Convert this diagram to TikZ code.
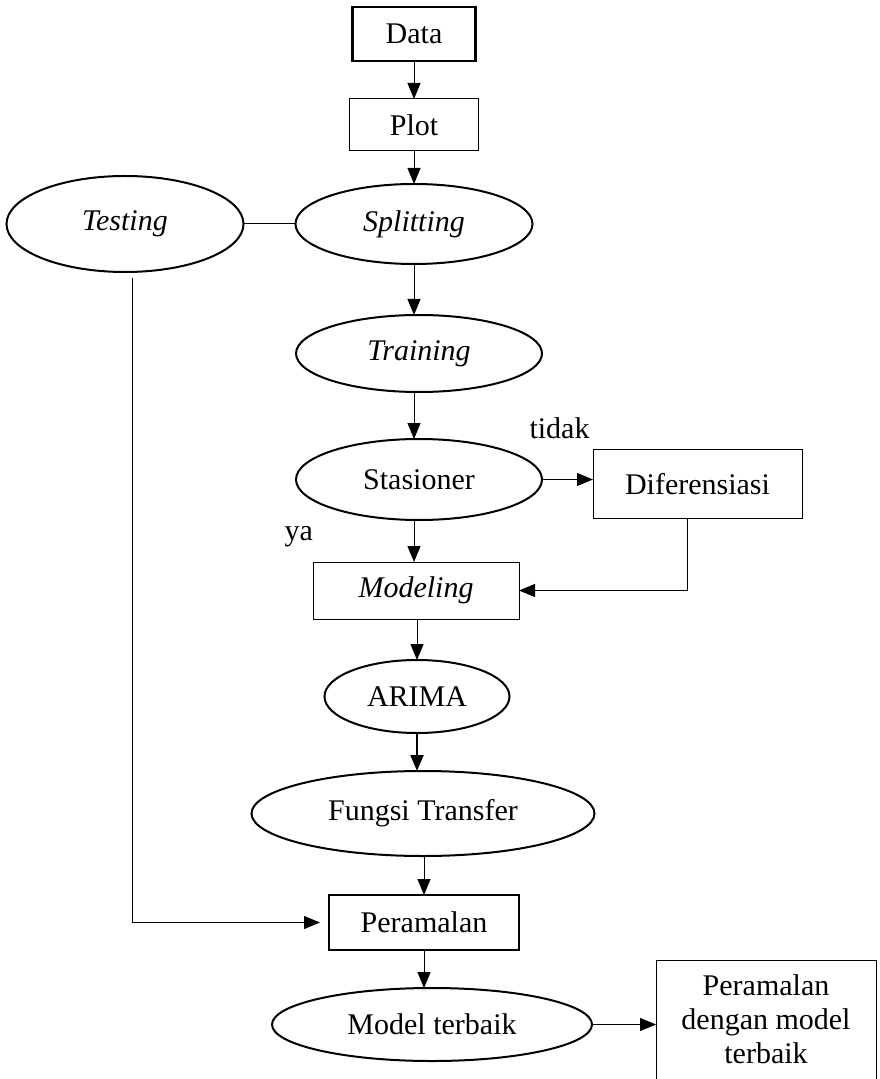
\documentclass[tikz,border=0pt]{standalone}
\usepackage{fontspec}
\setmainfont{Liberation Serif}
\usetikzlibrary{arrows.meta,positioning,shapes.geometric}
\tikzset{%
   kotak/.style={rectangle, draw=black, line width=0.5pt, inner sep=0pt, outer sep=0pt},
   kotaktebal/.style={kotak, line width=1.3pt},
   elips/.style={ellipse, draw=black, line width=1pt, inner sep=0pt, outer sep=0pt},
   panah/.style={-{Triangle[length=8pt,width=6.5pt]}, line width=0.5pt},
   garis/.style={line width=0.5pt},
}

\begin{document}
\begin{tikzpicture}[x=0.5pt, y=-0.5pt, font=\fontsize{15}{17}\selectfont]
      \useasboundingbox (0,0) rectangle (879,1079);
      \node[kotaktebal, minimum width=61.5pt, minimum height=27pt] (data) at (414,34) {Data};
      \node[kotak, minimum width=64.5pt, minimum height=26pt, below=19pt of data] (plot) {Plot};
      \node[elips, minimum width=118.5pt, minimum height=40pt, below=16.5pt of plot] (split) {\textit{Splitting}};
      \node[elips, minimum width=118.5pt, minimum height=48pt, left=26pt of split] (test) {\textit{Testing}};
      \node[elips, minimum width=123pt, minimum height=38.5pt, below=25.5pt of split, xshift=2.5pt] (train) {\textit{Training}};
      \node[elips, minimum width=123pt, minimum height=40.5pt, below=23.5pt of train] (stas) {Stasioner};
      \node[kotak, minimum width=104.5pt, minimum height=34.5pt, right=25.5pt of stas, yshift=-2.25pt] (dif) {Diferensiasi};
      \node[kotak, minimum width=103pt, minimum height=28.5pt, below=21pt of stas, xshift=-1.5pt] (model) {\textit{Modeling}};
      \node[elips, minimum width=92.5pt, minimum height=36.5pt, below=20.5pt of model, xshift=0.5pt] (arima) {ARIMA};
      \node[elips, minimum width=171.5pt, minimum height=42.5pt, below=19pt of arima, xshift=3pt] (ft) {Fungsi Transfer};
      \node[kotaktebal, minimum width=95pt, minimum height=27.5pt, below=19.5pt of ft, xshift=0.5pt] (per) {Peramalan};
      \node[elips, minimum width=160pt, minimum height=36.5pt, below=19pt of per, xshift=4pt] (mt) {Model terbaik};
      \node[inner sep=0pt, outer sep=0pt, minimum width=110pt, minimum height=59.5pt, align=center, right=32pt of mt, yshift=2.5pt] (fin) {Peramalan\\dengan model\\terbaik};
      \coordinate (tdrop) at ([xshift=3.5pt,yshift=-3pt]test.south);
      \draw[garis] (fin.south west) |- (fin.north east) -- (fin.south east);
      \draw[panah] (data.south) -- (plot.north -| data);
      \draw[panah] (plot.south -| data) -- (split.north -| data);
      \draw[garis] (test.east) -- (split.west);
      \draw[panah] (split.south -| data) -- (train.north -| data);
      \draw[panah] (train.south -| data) -- (stas.north -| data);
      \draw[panah] (stas.east) -- (stas.east -| dif.west) node[midway, above=17pt, xshift=-4pt] (ltidak) {tidak};
      \draw[panah] (stas.south -| data) -- (model.north -| data) node[pos=.4, left=47pt] (lya) {ya};
      \draw[panah] ([xshift=-5pt]dif.south) |- (model.east);
      \draw[panah] (model.south -| arima) -- (arima.north);
      \draw[panah, line width=1pt] (arima.south) -- (ft.north -| arima);
      \draw[panah] (ft.south -| per) -- (per.north);
      \draw[panah, shorten >=4.5pt] (tdrop) |- (per.west);
      \draw[panah] (per.south) -- (mt.north -| per);
      \draw[panah] (mt.east) -- (mt.east -| fin.west);
   \end{tikzpicture}
\end{document}
